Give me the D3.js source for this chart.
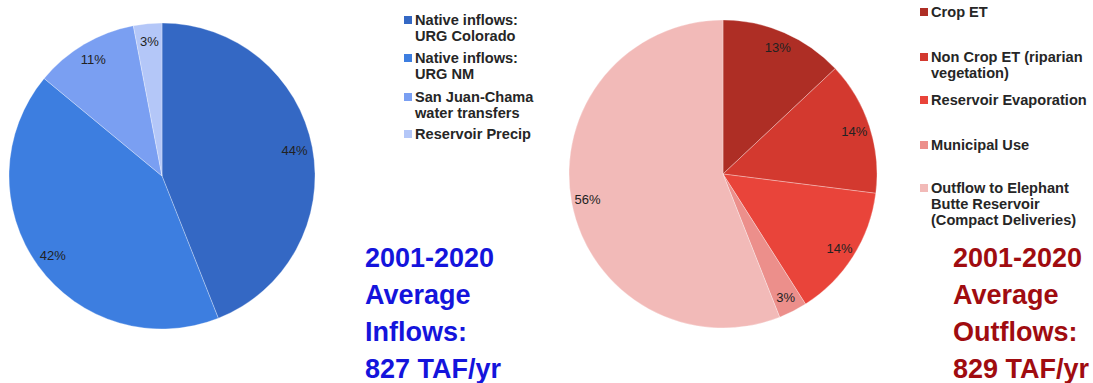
<!DOCTYPE html>
<html>
<head>
<meta charset="utf-8">
<script src="https://cdn.jsdelivr.net/npm/d3@7"></script>
<style>
  body { margin: 0; background: #fff; }
  svg { font-family: "Liberation Sans", Arial, sans-serif; }
</style>
</head>
<body>
<div id="chart"></div>
<script>
// inflow pie
var inflowNames = ["Native inflows:|URG Colorado", "Native inflows:|URG NM", "San Juan-Chama|water transfers", "Reservoir Precip"]
var inflowValues = [44, 42, 11, 3]
var inflowColors = ["#3468c4", "#3d7ee0", "#7a9ff2", "#b4c7f8"]
var inflowTitle = ["2001-2020", "Average", "Inflows:", "827 TAF/yr"]

// outflow pie
var outflowNames = ["Crop ET", "Non Crop ET (riparian|vegetation)", "Reservoir Evaporation", "Municipal Use", "Outflow to Elephant|Butte Reservoir|(Compact Deliveries)"]
var outflowValues = [13, 14, 14, 3, 56]
var outflowColors = ["#ae2e25", "#d3392f", "#e9443a", "#ec8f8b", "#f2bab8"]
var outflowTitle = ["2001-2020", "Average", "Outflows:", "829 TAF/yr"]

var svg = d3.select("#chart")
    .append("svg")
    .attr("width", 1093)
    .attr("height", 383)

// draws one pie with its % labels
var drawPie = function(values, colors, cx, cy, r, labelR)
{
    var pie = d3.pie().sort(null).value(function(d) { return d })
    var arc = d3.arc().innerRadius(0).outerRadius(r)
    var labelArc = d3.arc().innerRadius(labelR).outerRadius(labelR)

    var g = svg.append("g")
        .attr("transform", "translate(" + cx + "," + cy + ")")

    var slices = pie(values)

    g.selectAll("path")
        .data(slices)
        .enter()
        .append("path")
        .attr("d", arc)
        .attr("fill", function(d, i) { return colors[i] })
        .attr("stroke", "#fff")
        .attr("stroke-width", 0.3)

    g.selectAll("text")
        .data(slices)
        .enter()
        .append("text")
        .attr("transform", function(d) { return "translate(" + labelArc.centroid(d) + ")" })
        .attr("text-anchor", "middle")
        .attr("dy", "0.35em")
        .attr("font-size", 13)
        .attr("fill", "#222")
        .text(function(d) { return d.value + "%" })
}

// legend: baselines given per entry, lines split on |
var drawLegend = function(names, colors, x, baselines)
{
    var g = svg.append("g")
    names.forEach(function(name, i)
    {
        var lines = name.split("|")
        g.append("rect")
            .attr("x", x)
            .attr("y", baselines[i] - 9)
            .attr("width", 8)
            .attr("height", 8)
            .attr("fill", colors[i])
        var t = g.append("text")
            .attr("x", x + 11)
            .attr("y", baselines[i])
            .attr("font-size", 14.6)
            .attr("font-weight", "bold")
            .attr("fill", "#262626")
        lines.forEach(function(line, j)
        {
            t.append("tspan")
                .attr("x", x + 11)
                .attr("dy", j == 0 ? 0 : 16)
                .text(line)
        })
    })
}

var drawTitle = function(lines, x, color)
{
    svg.selectAll(null)
        .data(lines)
        .enter()
        .append("text")
        .attr("x", x)
        .attr("y", function(d, i) { return 267 + i * 37 })
        .attr("font-size", 27)
        .attr("font-weight", "bold")
        .attr("fill", color)
        .text(function(d) { return d })
}

drawPie(inflowValues, inflowColors, 162, 176, 153, 135)
drawPie(outflowValues, outflowColors, 723, 174, 154, 138)

drawLegend(inflowNames, inflowColors, 404, [25, 63, 102, 139])
drawLegend(outflowNames, outflowColors, 920, [17, 62, 105, 150, 193])

drawTitle(inflowTitle, 365, "#1414dc")
drawTitle(outflowTitle, 953, "#a00c10")
</script>
</body>
</html>
